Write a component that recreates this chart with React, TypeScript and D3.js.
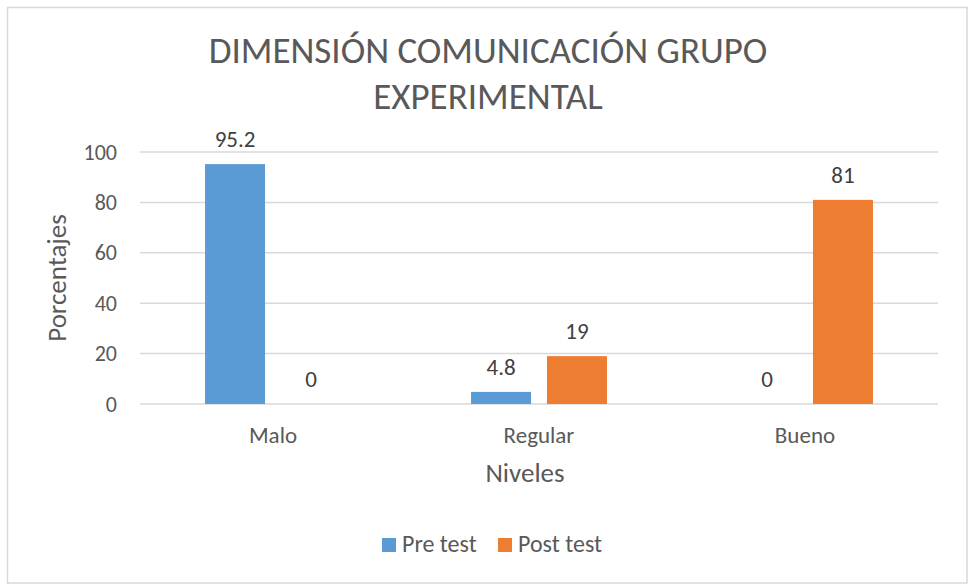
import React from "react";
import * as d3 from "d3";

const categories = ["Malo", "Regular", "Bueno"];
const seriesNames = ["Pre test", "Post test"];
const preTest = [95.2, 4.8, 0];
const postTest = [0, 19, 81];
const yTicks = [0, 20, 40, 60, 80, 100];
const colors = ["#5B9BD5", "#ED7D31"];

const W = 969, H = 586;
const left = 140, right = 938, top = 152, bottom = 404;
const font = "Calibri, Carlito, 'Open Sans', sans-serif";
const textColor = "#595959";

export default function App() {
  const x = d3.scaleBand<string>().domain(categories).range([left, right]).paddingInner(0.489).paddingOuter(0.2445);
  const inner = d3.scaleBand<string>().domain(seriesNames).range([0, x.bandwidth()]).paddingInner(0.21);
  const y = d3.scaleLinear().domain([0, 100]).range([bottom, top]);
  const data = [preTest, postTest];
  return (
    <svg width={W} height={H} style={{ position: "absolute", left: 0, top: 0 }}>
      <rect x={7.5} y={7.5} width={959.5} height={575.5} fill="#fff" stroke="#D9D9D9" strokeWidth={1.5} />
      <text x={488} y={63} textAnchor="middle" fontFamily={font} fontSize={37} fill={textColor}>DIMENSIÓN COMUNICACIÓN GRUPO</text>
      <text x={488} y={109} textAnchor="middle" fontFamily={font} fontSize={37} fill={textColor}>EXPERIMENTAL</text>
      {yTicks.map(t => (
        <g key={t}>
          <line x1={left} x2={right} y1={y(t)} y2={y(t)} stroke="#D9D9D9" strokeWidth={1.5} />
          <text x={117} y={y(t) + 7.5} textAnchor="end" fontFamily={font} fontSize={22} fill={textColor}>{t}</text>
        </g>
      ))}
      {data.map((vals, si) => categories.map((c, ci) => {
        const bx = (x(c) as number) + (inner(seriesNames[si]) as number);
        const bw = inner.bandwidth();
        return (
          <g key={si + "-" + ci}>
            {vals[ci] > 0 && <rect x={bx} y={y(vals[ci])} width={bw} height={y(0) - y(vals[ci])} fill={colors[si]} />}
            <text x={bx + bw / 2} y={y(vals[ci]) - 17} textAnchor="middle" fontFamily={font} fontSize={23} fill="#404040">{vals[ci]}</text>
          </g>
        );
      }))}
      {categories.map(c => (
        <text key={c} x={(x(c) as number) + x.bandwidth() / 2} y={443} textAnchor="middle" fontFamily={font} fontSize={23} fill={textColor}>{c}</text>
      ))}
      <text x={525} y={482} textAnchor="middle" fontFamily={font} fontSize={27} fill={textColor}>Niveles</text>
      <text transform="translate(66,278) rotate(-90)" textAnchor="middle" fontFamily={font} fontSize={27} fill={textColor}>Porcentajes</text>
      {seriesNames.map((s, i) => {
        const lx = i === 0 ? 382 : 498;
        return (
          <g key={s}>
            <rect x={lx} y={538} width={14} height={14} fill={colors[i]} />
            <text x={lx + 20} y={552} fontFamily={font} fontSize={24} fill={textColor}>{s}</text>
          </g>
        );
      })}
    </svg>
  );
}
